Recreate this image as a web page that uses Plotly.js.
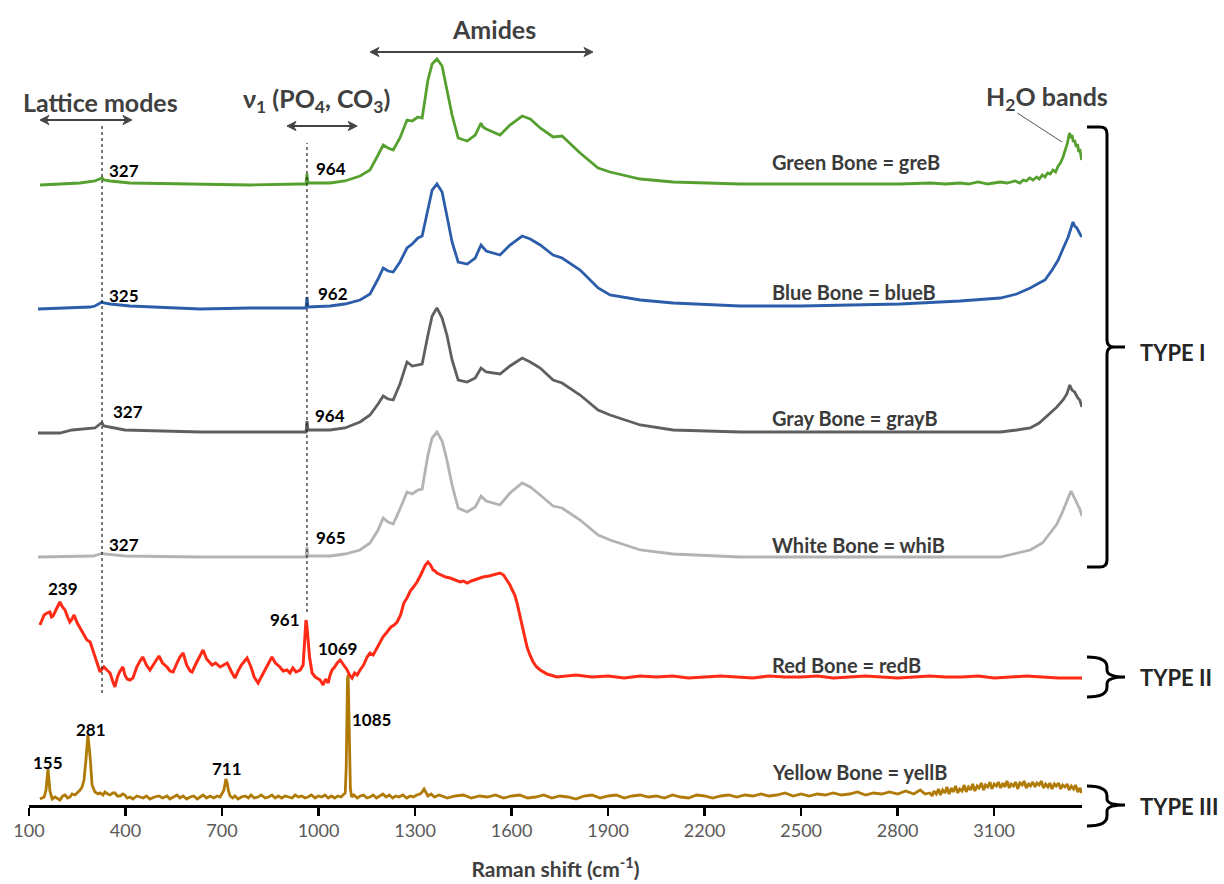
<!DOCTYPE html>
<html>
<head>
<meta charset="utf-8">
<script src="https://cdn.plot.ly/plotly-3.0.1.min.js"></script>
<style>html,body{margin:0;padding:0;background:#fff;}#chart{width:1224px;height:884px;}</style>
</head>
<body>
<div id="chart"></div>
<script>
// ---------- DATA (Raman shift cm-1, relative intensity) ----------
const tickValues = [100, 400, 700, 1000, 1300, 1600, 1900, 2200, 2500, 2800, 3100];
const seriesNames = ["Green Bone = greB", "Blue Bone = blueB", "Gray Bone = grayB", "White Bone = whiB", "Red Bone = redB", "Yellow Bone = yellB"];
const seriesOffsets = [621, 497, 373, 248, 128, 8];

const greB = [[134,-1],[196,0],[259,1],[305,3],[321,5],[327,6],[333,4],[352,3],[414,1],[632,0],[787,-1],[943,0],[961,0],[964,10],[967,1],[1036,1],[1082,3],[1129,8],[1160,14],[1185,29],[1201,39],[1216,36],[1232,34],[1253,46],[1275,64],[1291,63],[1309,67],[1322,66],[1340,104],[1353,120],[1368,125],[1384,118],[1399,94],[1415,69],[1434,46],[1462,43],[1487,49],[1505,61],[1511,57],[1521,55],[1564,49],[1595,59],[1633,68],[1658,65],[1689,56],[1729,47],[1757,48],[1813,31],[1869,16],[1906,12],[2000,5],[2102,2],[2310,0],[2500,0],[2808,0],[2900,1],[2950,0],[2994,1],[3020,0],[3050,2],[3080,0],[3119,2],[3140,1],[3165,3],[3180,1],[3190,4],[3200,3],[3210,6],[3221,4],[3232,7],[3240,5],[3250,9],[3258,7],[3266,11],[3274,10],[3283,14],[3291,12],[3299,18],[3306,21],[3314,27],[3320,33],[3327,40],[3332,48],[3335,51],[3338,46],[3342,49],[3346,42],[3350,44],[3355,37],[3359,40],[3363,32],[3366,35],[3372,24]];

const blueB = [[128,-1],[196,0],[290,1],[305,2],[321,5],[327,6],[333,5],[352,4],[414,2],[632,-1],[787,0],[943,0],[961,0],[964,11],[967,1],[1036,2],[1082,4],[1129,8],[1160,14],[1185,29],[1201,40],[1216,37],[1232,36],[1253,46],[1275,60],[1291,64],[1309,70],[1322,72],[1340,100],[1353,118],[1368,124],[1384,116],[1399,92],[1415,66],[1434,46],[1462,44],[1487,50],[1505,63],[1521,57],[1564,53],[1595,63],[1633,72],[1658,69],[1689,63],[1729,53],[1757,50],[1813,38],[1869,20],[1906,13],[2000,8],[2102,5],[2310,2],[2500,2],[2808,4],[2994,7],[3119,10],[3170,14],[3212,20],[3240,25],[3258,28],[3280,38],[3299,48],[3315,60],[3330,71],[3345,86],[3350,82],[3357,80],[3364,76],[3372,71]];

const grayB = [[128,-1],[196,-1],[234,2],[290,3],[305,4],[321,8],[327,9],[333,6],[352,5],[398,2],[632,0],[943,0],[961,0],[964,11],[967,2],[1036,2],[1082,4],[1129,10],[1160,17],[1185,28],[1201,36],[1216,33],[1232,32],[1253,48],[1275,70],[1291,66],[1309,67],[1322,68],[1340,97],[1353,116],[1368,124],[1384,114],[1399,97],[1415,72],[1434,52],[1462,50],[1487,54],[1505,64],[1521,60],[1564,58],[1595,66],[1633,74],[1658,70],[1689,64],[1729,52],[1757,49],[1813,37],[1869,22],[1906,17],[2000,7],[2102,2],[2310,0],[2808,0],[3119,0],[3170,2],[3212,4],[3240,9],[3274,19],[3295,25],[3314,32],[3326,38],[3335,47],[3342,42],[3350,40],[3360,34],[3366,32],[3373,25]];

const whiB = [[128,0],[300,1],[321,3],[327,4],[333,3],[398,1],[632,0],[943,0],[961,0],[964,10],[967,1],[1036,1],[1082,3],[1129,7],[1160,14],[1185,27],[1201,39],[1216,35],[1232,33],[1253,48],[1275,65],[1291,63],[1309,67],[1322,68],[1340,102],[1353,119],[1368,125],[1384,116],[1399,97],[1415,72],[1434,49],[1462,45],[1487,50],[1505,61],[1521,56],[1564,52],[1595,64],[1633,74],[1658,70],[1689,62],[1729,51],[1757,49],[1813,37],[1869,22],[1906,17],[2000,7],[2102,3],[2310,0],[2808,0],[3119,0],[3212,7],[3250,14],[3274,24],[3295,33],[3311,44],[3325,55],[3339,66],[3348,60],[3357,54],[3366,48],[3373,41]];

const redB = [[134,52],[140,56],[147,62],[156,64],[165,65],[170,60],[175,61],[185,68],[196,75],[204,70],[212,67],[220,60],[227,55],[234,58],[240,62],[250,54],[259,49],[268,44],[280,37],[290,35],[298,27],[305,20],[313,12],[321,5],[327,8],[333,10],[342,7],[352,4],[360,-4],[367,-10],[375,0],[383,6],[392,10],[398,2],[405,-2],[414,-3],[423,-1],[435,10],[445,16],[454,20],[465,12],[476,7],[490,14],[504,21],[515,14],[529,10],[538,6],[548,5],[560,14],[569,20],[579,24],[590,12],[601,6],[607,5],[620,14],[630,20],[641,27],[652,18],[660,15],[669,12],[680,14],[694,10],[705,12],[716,14],[728,6],[740,-1],[750,6],[760,12],[770,16],[778,19],[790,10],[800,0],[812,-6],[825,2],[840,12],[855,20],[866,14],[880,10],[890,6],[902,7],[911,4],[920,9],[930,5],[943,7],[952,12],[955,30],[958,45],[961,57],[964,50],[967,37],[972,20],[980,4],[990,0],[1005,-3],[1014,-8],[1022,-2],[1030,-6],[1036,2],[1042,7],[1050,10],[1058,14],[1067,17],[1075,13],[1082,10],[1089,7],[1096,2],[1104,-1],[1112,4],[1120,2],[1129,7],[1140,12],[1151,20],[1160,24],[1170,22],[1180,28],[1191,34],[1200,40],[1213,45],[1225,50],[1235,52],[1244,55],[1255,62],[1265,74],[1275,79],[1285,86],[1295,90],[1306,95],[1316,101],[1325,107],[1332,112],[1340,115],[1348,112],[1356,107],[1362,106],[1368,104],[1380,102],[1395,100],[1409,99],[1425,97],[1440,95],[1450,96],[1462,94],[1475,96],[1490,98],[1511,100],[1530,101],[1548,103],[1564,104],[1575,102],[1586,97],[1595,92],[1602,87],[1610,82],[1617,74],[1625,63],[1633,52],[1640,40],[1648,30],[1657,22],[1667,15],[1678,10],[1689,7],[1710,3],[1741,0],[1800,2],[1850,0],[1900,1],[1950,-1],[2000,1],[2050,0],[2100,1],[2150,-1],[2200,0],[2250,1],[2300,0],[2350,-1],[2400,1],[2450,0],[2500,0],[2550,1],[2600,-1],[2650,0],[2700,1],[2750,0],[2800,-1],[2850,0],[2900,1],[2950,0],[3000,0],[3050,1],[3100,-1],[3150,0],[3200,1],[3250,0],[3300,-1],[3373,-1]];

const yellB = [[134,-2],[147,0],[153,7],[156,20],[159,28],[162,18],[165,6],[172,-2],[181,0],[196,-3],[205,1],[212,2],[220,-1],[227,0],[234,3],[243,2],[250,4],[259,7],[265,10],[271,17],[277,37],[283,62],[287,50],[290,40],[296,12],[305,5],[315,3],[321,4],[330,2],[336,5],[345,3],[352,2],[360,4],[367,4],[375,1],[383,1],[392,3],[398,2],[405,-1],[414,0],[423,-2],[435,1],[445,0],[455,-1],[465,1],[476,-2],[490,0],[504,1],[515,-1],[529,1],[538,-2],[548,0],[560,2],[569,-1],[579,1],[590,-2],[601,0],[612,1],[623,-2],[632,0],[641,2],[652,-1],[663,1],[674,-1],[685,1],[694,0],[700,3],[706,7],[712,18],[716,14],[720,6],[725,1],[733,-1],[740,1],[750,-2],[760,0],[772,1],[782,-1],[790,2],[800,-1],[812,0],[822,2],[834,-1],[845,0],[855,2],[865,-1],[875,1],[885,-1],[896,1],[906,0],[918,-1],[927,2],[938,0],[948,1],[958,-1],[967,0],[978,2],[989,-1],[999,1],[1010,0],[1020,2],[1030,-1],[1040,1],[1050,-1],[1060,1],[1070,0],[1078,2],[1083,4],[1086,30],[1088,80],[1090,118],[1092,122],[1094,90],[1096,40],[1099,8],[1103,0],[1110,2],[1120,-1],[1130,1],[1140,2],[1150,-1],[1160,0],[1170,2],[1180,-1],[1190,1],[1200,3],[1210,0],[1220,2],[1230,-1],[1240,1],[1250,0],[1262,2],[1274,-1],[1285,1],[1295,0],[1305,2],[1315,3],[1322,5],[1328,8],[1334,4],[1340,1],[1350,3],[1360,0],[1375,2],[1400,-1],[1425,1],[1450,2],[1475,-1],[1500,1],[1525,0],[1550,2],[1575,-1],[1600,1],[1625,2],[1650,-1],[1675,0],[1700,2],[1725,-1],[1750,1],[1775,0],[1800,-2],[1825,1],[1850,2],[1875,-1],[1900,1],[1925,2],[1950,-1],[1975,1],[2000,2],[2025,0],[2050,1],[2075,-1],[2100,2],[2125,0],[2150,-1],[2175,2],[2200,1],[2225,-1],[2250,1],[2275,2],[2300,0],[2325,2],[2350,1],[2375,3],[2400,1],[2425,2],[2450,4],[2475,1],[2500,3],[2525,1],[2550,3],[2575,2],[2600,4],[2625,2],[2650,3],[2675,5],[2700,2],[2725,4],[2750,3],[2775,5],[2800,3],[2825,6],[2850,3],[2870,7],[2885,3],[2900,4],[2907,1],[2913,6],[2920,3],[2927,8],[2933,2],[2940,7],[2947,4],[2953,10],[2960,3],[2967,9],[2973,5],[2980,11],[2987,4],[2993,8],[3000,6],[3007,12],[3013,5],[3020,10],[3027,7],[3033,13],[3040,6],[3047,11],[3053,9],[3060,14],[3067,7],[3073,12],[3080,10],[3087,15],[3093,8],[3100,13],[3107,11],[3113,15],[3120,9],[3127,14],[3133,10],[3140,16],[3147,9],[3153,13],[3160,11],[3167,15],[3173,8],[3180,14],[3187,12],[3193,16],[3200,9],[3207,13],[3213,11],[3220,15],[3227,10],[3233,14],[3240,12],[3247,16],[3253,9],[3260,13],[3267,10],[3273,14],[3280,8],[3287,13],[3293,11],[3300,14],[3307,8],[3313,12],[3320,10],[3327,13],[3333,7],[3340,11],[3347,8],[3353,12],[3360,5],[3367,9],[3372,4]];

// peak labels: [Raman position, series index, height above baseline, text, anchor]
const peakLabels = [
  [342, 0, 14, "327", "left"], [986, 0, 16, "964", "left"],
  [342, 1, 13, "325", "left"], [992, 1, 15, "962", "left"],
  [355, 2, 21, "327", "left"], [983, 2, 17, "964", "left"],
  [342, 3, 13, "327", "left"], [986, 3, 20, "965", "left"],
  [206, 4, 89, "239", "center"], [949, 4, 58, "961", "right"], [1058, 4, 29, "1069", "center"],
  [1098, 5, 78, "1085", "left"], [293, 5, 68, "281", "center"], [159, 5, 35, "155", "center"], [716, 5, 29, "711", "center"]
];
const bandLabels = ["Amides", "Lattice modes", "ν<sub>1</sub> (PO<sub>4</sub>, CO<sub>3</sub>)", "H<sub>2</sub>O bands"];
// band ranges shown by double arrows: [from, to] in cm-1
const bandRanges = [[1160, 1853], [134, 420], [902, 1120]];
const typeLabels = ["TYPE I", "TYPE II", "TYPE III"];

// ---------- STYLE ----------
const colors = ["#55A02E", "#2C5DAA", "#5F5F5F", "#B3B3B3", "#FF2B16", "#B07A06"];
const widths = [2.8, 2.8, 2.8, 2.8, 3, 2.8];
const FONT = "Lato, 'Open Sans', sans-serif";

// plot area in pixels: x 29..1082, y 20..805
const L = 29, R = 1082, T = 20, B = 805;
const PX = x => (x - L) / (R - L);
const PY = y => (B - y) / (B - T);
const UPX = (R - L) / (3373 - 100); // pixels per cm-1
function path(cmds) {
  return cmds.map(c => c[0] + ' ' + c.slice(1).reduce((acc, v, i) => {
    acc.push(i % 2 === 0 ? PX(v).toFixed(5) : PY(v).toFixed(5)); return acc;
  }, []).join(' ')).join(' ');
}

const allSeries = [greB, blueB, grayB, whiB, redB, yellB];
const order = [5, 4, 3, 2, 1, 0];
const traces = order.map(i => ({
  type: 'scatter', mode: 'lines',
  x: allSeries[i].map(p => p[0]),
  y: allSeries[i].map(p => p[1] + seriesOffsets[i]),
  line: {color: colors[i], width: widths[i]},
  name: seriesNames[i], hoverinfo: 'skip', showlegend: false
}));

const annotations = [];
const nameHeights = [22, 16, 14, 12, 12, 25];
seriesNames.forEach((n, i) => annotations.push({
  x: 2404, y: seriesOffsets[i] + nameHeights[i], xref: 'x', yref: 'y', text: n, showarrow: false,
  xanchor: 'left', yanchor: 'middle', font: {family: FONT, size: 20, color: '#3A3A3A', weight: 'bold'}
}));
peakLabels.forEach(p => annotations.push({
  x: p[0], y: seriesOffsets[p[1]] + p[2], xref: 'x', yref: 'y', text: p[3], showarrow: false,
  xanchor: p[4], yanchor: 'middle', font: {family: FONT, size: 17, color: '#000', weight: 'bold'}
}));
const hdr = {family: FONT, size: 25, color: '#404040', weight: 'bold'};
annotations.push({x: 1546, y: 776, xref: 'x', yref: 'y', text: bandLabels[0], showarrow: false, font: hdr});
annotations.push({x: 321, y: 703, xref: 'x', yref: 'y', text: bandLabels[1], showarrow: false, font: hdr});
annotations.push({x: 995, y: 705, xref: 'x', yref: 'y', text: bandLabels[2], showarrow: false, font: hdr});
annotations.push({x: 3265, y: 707, xref: 'x', yref: 'y', text: bandLabels[3], showarrow: false, font: hdr});
[[352, 0], [677, 1], [806, 2]].forEach(t => annotations.push({
  x: PX(1138), y: PY(t[0]), xref: 'paper', yref: 'paper', text: typeLabels[t[1]], showarrow: false,
  xanchor: 'left', yanchor: 'middle', font: {family: FONT, size: 22, color: '#262626', weight: 'bold'}
}));

const brace = {type: 'path', xref: 'paper', yref: 'paper', line: {color: '#000', width: 3}, layer: 'above'};
const shapes = [
  {type: 'line', xref: 'x', yref: 'y', x0: 327, x1: 327, y0: 112, y1: 682, line: {color: '#222', width: 1.2, dash: 'dot'}},
  {type: 'line', xref: 'x', yref: 'y', x0: 964, x1: 964, y0: 193, y1: 662, line: {color: '#222', width: 1.2, dash: 'dot'}},
  {type: 'line', xref: 'x', yref: 'y', x0: 3172, x1: 3311, y0: 692, y1: 663, line: {color: '#555', width: 1}},
  Object.assign({}, brace, {path: path([['M',1087,127],['L',1100,127],['Q',1107,127,1107,134],['L',1107,340],['Q',1107,347,1114,347],['L',1125,347],['M',1114,347],['Q',1107,347,1107,354],['L',1107,560],['Q',1107,567,1100,567],['L',1087,567]])}),
  Object.assign({}, brace, {path: path([['M',1087,657],['Q',1107,657,1107,667],['L',1107,670],['Q',1107,677,1125,677],['Q',1107,677,1107,684],['L',1107,687],['Q',1107,697,1087,697]])}),
  Object.assign({}, brace, {path: path([['M',1087,786],['Q',1107,786,1107,796],['L',1107,799],['Q',1107,805,1125,805],['Q',1107,805,1107,811],['L',1107,816],['Q',1107,826,1087,826]])})
];
// double-headed arrows drawn as shapes (line + two filled heads)
const arrowY = [753, 685, 679];
bandRanges.forEach((r, k) => {
  const y = arrowY[k], hl = 9 / UPX, hw = 4.5;
  shapes.push({type: 'line', xref: 'x', yref: 'y', x0: r[0] + hl * 0.6, x1: r[1] - hl * 0.6, y0: y, y1: y, line: {color: '#444', width: 2}});
  shapes.push({type: 'path', xref: 'x', yref: 'y', fillcolor: '#444', line: {color: '#444', width: 1},
    path: `M ${r[0]} ${y} L ${r[0] + hl} ${y + hw} L ${r[0] + hl * 0.7} ${y} L ${r[0] + hl} ${y - hw} Z`});
  shapes.push({type: 'path', xref: 'x', yref: 'y', fillcolor: '#444', line: {color: '#444', width: 1},
    path: `M ${r[1]} ${y} L ${r[1] - hl} ${y + hw} L ${r[1] - hl * 0.7} ${y} L ${r[1] - hl} ${y - hw} Z`});
});

const layout = {
  width: 1224, height: 884,
  margin: {l: L, r: 1224 - R, t: T, b: 884 - B, pad: 0},
  paper_bgcolor: '#fff', plot_bgcolor: '#fff',
  showlegend: false,
  xaxis: {
    range: [100, 3373], tickvals: tickValues, ticktext: tickValues.map(String),
    showline: true, linecolor: '#000', linewidth: 2.5, mirror: false,
    ticks: 'outside', ticklen: 8, tickwidth: 2.5, tickcolor: '#000',
    showgrid: false, zeroline: false,
    tickfont: {family: FONT, size: 18, color: '#595959'},
    title: {text: 'Raman shift (cm<sup>-1</sup>)', font: {family: FONT, size: 21, color: '#404040', weight: 'bold'}, standoff: 22},
    automargin: false
  },
  yaxis: {range: [0, 785], visible: false, showgrid: false, zeroline: false, fixedrange: true},
  annotations: annotations,
  shapes: shapes
};

Plotly.newPlot('chart', traces, layout, {displayModeBar: false, staticPlot: true});
</script>
</body>
</html>
